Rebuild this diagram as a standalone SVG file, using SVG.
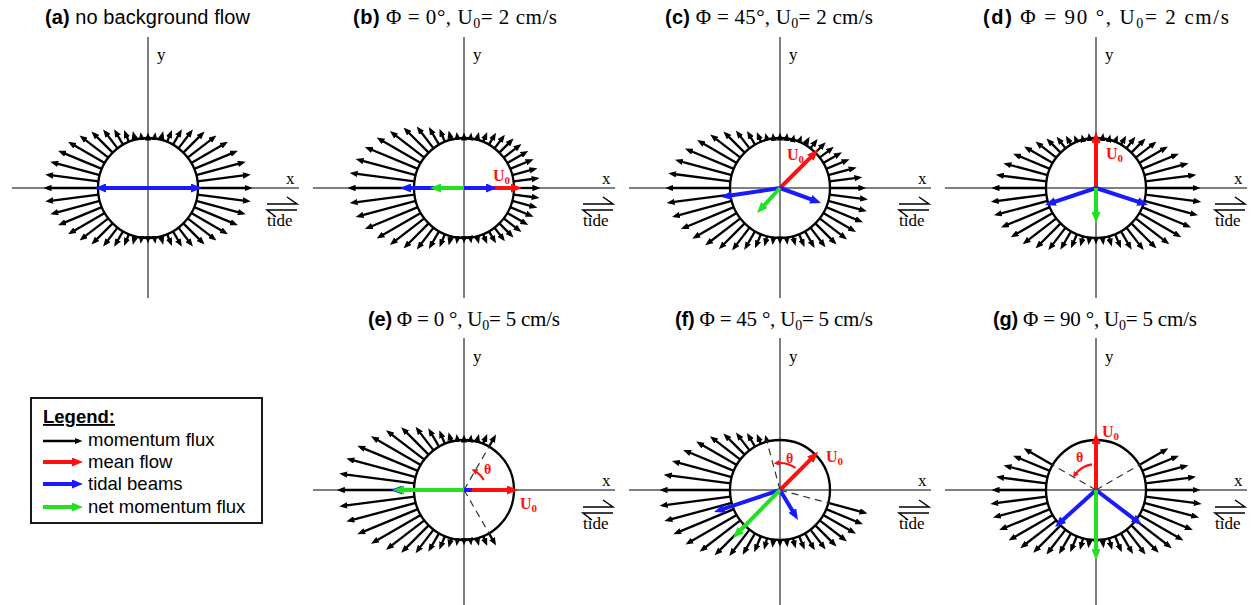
<svg xmlns="http://www.w3.org/2000/svg" width="1255" height="605" viewBox="0 0 1255 605">
<defs>
<marker id="hk" viewBox="0 0 8 6.4" refX="4.5" refY="3.2" markerWidth="8" markerHeight="6.4" markerUnits="userSpaceOnUse" orient="auto"><path d="M0,0 L8,3.2 L0,6.4 z" fill="#000"/></marker>
<marker id="hr" viewBox="0 0 11 9" refX="5" refY="4.5" markerWidth="11" markerHeight="9" markerUnits="userSpaceOnUse" orient="auto"><path d="M0,0 L11,4.5 L0,9 z" fill="#ff1010"/></marker>
<marker id="hb" viewBox="0 0 11 9" refX="5" refY="4.5" markerWidth="11" markerHeight="9" markerUnits="userSpaceOnUse" orient="auto"><path d="M0,0 L11,4.5 L0,9 z" fill="#1a1aff"/></marker>
<marker id="hg" viewBox="0 0 11 9" refX="5" refY="4.5" markerWidth="11" markerHeight="9" markerUnits="userSpaceOnUse" orient="auto"><path d="M0,0 L11,4.5 L0,9 z" fill="#22e022"/></marker>
<marker id="ht" viewBox="0 0 6 6" refX="3" refY="3" markerWidth="6" markerHeight="6" markerUnits="userSpaceOnUse" orient="auto"><path d="M0,0 L6,3 L0,6 z" fill="#ff1010"/></marker>
</defs>
<style>
.ax{stroke:#555;stroke-width:1.5;fill:none}
.ring{fill:none;stroke:#000;stroke-width:2.3}
.fx line{stroke:#000;stroke-width:2.3;marker-end:url(#hk)}
.dash{stroke:#333;stroke-width:1.2;stroke-dasharray:7 5;fill:none}
.r{stroke:#ff1010;stroke-width:4;marker-end:url(#hr)}
.b{stroke:#1a1aff;stroke-width:4;marker-end:url(#hb)}
.g{stroke:#22e022;stroke-width:4;marker-end:url(#hg)}
.arc{stroke:#ff1010;stroke-width:2.2;fill:none;marker-end:url(#ht)}
.td{stroke:#000;stroke-width:1.5;fill:none}
.ser{font-family:"Liberation Serif","Times New Roman",serif;fill:#000}
.lab{font-size:17px}
.tide{font-size:17px}
.tt{font-family:"Liberation Serif","Times New Roman",serif;font-size:21px;fill:#000}
.tb{font-family:"Liberation Sans",Arial,sans-serif;font-weight:bold;font-size:20px}
.tn{font-family:"Liberation Sans",Arial,sans-serif;font-weight:normal;font-size:20px}
.sub{font-size:14px}
.u0{font-family:"Liberation Serif","Times New Roman",serif;font-weight:bold;font-size:16px;fill:#ff1010}
.u0 .s{font-size:11px}
.th{font-family:"Liberation Serif","Times New Roman",serif;font-weight:bold;font-size:14px;fill:#ff1010}
.lg{font-family:"Liberation Sans",Arial,sans-serif;font-size:18.5px;fill:#000}
</style>

<!-- Panel (a) -->
<g id="panel-a" transform="translate(148,188)">
<text class="tt" x="-103" y="-164" textLength="205" lengthAdjust="spacing"><tspan class="tb">(a)</tspan><tspan class="tn"> no background flow</tspan></text>
<line class="ax" x1="-136" y1="0" x2="151" y2="0"/>
<line class="ax" x1="0" y1="-151" x2="0" y2="110"/>
<text class="ser lab" x="9" y="-128">y</text>
<text class="ser lab" x="138" y="-4">x</text>
<path class="td" d="M119,16H149L139,9M149,22H119L128,29"/>
<text class="ser tide" x="119" y="38">tide</text>
<circle class="ring" r="50"/>
<g class="fx">
<line x1="50" x2="101"/>
<line x1="50" x2="100.2" transform="rotate(-7.5)"/>
<line x1="50" x2="97.7" transform="rotate(-15)"/>
<line x1="50" x2="93.8" transform="rotate(-22.5)"/>
<line x1="50" x2="88.8" transform="rotate(-30)"/>
<line x1="50" x2="82.8" transform="rotate(-37.5)"/>
<line x1="50" x2="76.5" transform="rotate(-45)"/>
<line x1="50" x2="70.2" transform="rotate(-52.5)"/>
<line x1="50" x2="64.3" transform="rotate(-60)"/>
<line x1="50" x2="59.2" transform="rotate(-67.5)"/>
<line x1="50" x2="55.3" transform="rotate(-75)"/>
<line x1="50" x2="52.8" transform="rotate(-82.5)"/>
<line x1="50" x2="52" transform="rotate(-90)"/>
<line x1="50" x2="52.8" transform="rotate(-97.5)"/>
<line x1="50" x2="55.3" transform="rotate(-105)"/>
<line x1="50" x2="59.2" transform="rotate(-112.5)"/>
<line x1="50" x2="64.3" transform="rotate(-120)"/>
<line x1="50" x2="70.2" transform="rotate(-127.5)"/>
<line x1="50" x2="76.5" transform="rotate(-135)"/>
<line x1="50" x2="82.8" transform="rotate(-142.5)"/>
<line x1="50" x2="88.8" transform="rotate(-150)"/>
<line x1="50" x2="93.8" transform="rotate(-157.5)"/>
<line x1="50" x2="97.7" transform="rotate(-165)"/>
<line x1="50" x2="100.2" transform="rotate(-172.5)"/>
<line x1="50" x2="101" transform="rotate(180)"/>
<line x1="50" x2="100.2" transform="rotate(172.5)"/>
<line x1="50" x2="97.7" transform="rotate(165)"/>
<line x1="50" x2="93.8" transform="rotate(157.5)"/>
<line x1="50" x2="88.8" transform="rotate(150)"/>
<line x1="50" x2="82.8" transform="rotate(142.5)"/>
<line x1="50" x2="76.5" transform="rotate(135)"/>
<line x1="50" x2="70.2" transform="rotate(127.5)"/>
<line x1="50" x2="64.3" transform="rotate(120)"/>
<line x1="50" x2="59.2" transform="rotate(112.5)"/>
<line x1="50" x2="55.3" transform="rotate(105)"/>
<line x1="50" x2="52.8" transform="rotate(97.5)"/>
<line x1="50" x2="52" transform="rotate(90)"/>
<line x1="50" x2="52.8" transform="rotate(82.5)"/>
<line x1="50" x2="55.3" transform="rotate(75)"/>
<line x1="50" x2="59.2" transform="rotate(67.5)"/>
<line x1="50" x2="64.3" transform="rotate(60)"/>
<line x1="50" x2="70.2" transform="rotate(52.5)"/>
<line x1="50" x2="76.5" transform="rotate(45)"/>
<line x1="50" x2="82.8" transform="rotate(37.5)"/>
<line x1="50" x2="88.8" transform="rotate(30)"/>
<line x1="50" x2="93.8" transform="rotate(22.5)"/>
<line x1="50" x2="97.7" transform="rotate(15)"/>
<line x1="50" x2="100.2" transform="rotate(7.5)"/>
</g>
<line class="b" x1="0" y1="0" x2="-47" y2="0"/>
<line class="b" x1="0" y1="0" x2="48" y2="0"/>
</g>

<!-- Panel (b) -->
<g id="panel-b" transform="translate(464,188)">
<text class="tt" x="-111" y="-164" textLength="204" lengthAdjust="spacing"><tspan class="tb">(b)</tspan> Φ = 0°, U<tspan class="sub" dy="4">0</tspan><tspan dy="-4">= 2 cm/s</tspan></text>
<line class="ax" x1="-151" y1="0" x2="151" y2="0"/>
<line class="ax" x1="0" y1="-151" x2="0" y2="110"/>
<text class="ser lab" x="9" y="-128">y</text>
<text class="ser lab" x="138" y="-4">x</text>
<path class="td" d="M119,16H149L139,9M149,22H119L128,29"/>
<text class="ser tide" x="119" y="38">tide</text>
<circle class="ring" r="50"/>
<g class="fx">
<line x1="50" x2="72.9"/>
<line x1="50" x2="72.8" transform="rotate(-7.5)"/>
<line x1="50" x2="72.5" transform="rotate(-15)"/>
<line x1="50" x2="71.8" transform="rotate(-22.5)"/>
<line x1="50" x2="70.7" transform="rotate(-30)"/>
<line x1="50" x2="68.9" transform="rotate(-37.5)"/>
<line x1="50" x2="66.6" transform="rotate(-45)"/>
<line x1="50" x2="63.7" transform="rotate(-52.5)"/>
<line x1="50" x2="60.4" transform="rotate(-60)"/>
<line x1="50" x2="57.2" transform="rotate(-67.5)"/>
<line x1="50" x2="54.4" transform="rotate(-75)"/>
<line x1="50" x2="52.5" transform="rotate(-82.5)"/>
<line x1="50" x2="52" transform="rotate(-90)"/>
<line x1="50" x2="53.1" transform="rotate(-97.5)"/>
<line x1="50" x2="56" transform="rotate(-105)"/>
<line x1="50" x2="60.6" transform="rotate(-112.5)"/>
<line x1="50" x2="66.8" transform="rotate(-120)"/>
<line x1="50" x2="74.1" transform="rotate(-127.5)"/>
<line x1="50" x2="82" transform="rotate(-135)"/>
<line x1="50" x2="90" transform="rotate(-142.5)"/>
<line x1="50" x2="97.4" transform="rotate(-150)"/>
<line x1="50" x2="103.8" transform="rotate(-157.5)"/>
<line x1="50" x2="108.7" transform="rotate(-165)"/>
<line x1="50" x2="111.8" transform="rotate(-172.5)"/>
<line x1="50" x2="112.9" transform="rotate(180)"/>
<line x1="50" x2="111.8" transform="rotate(172.5)"/>
<line x1="50" x2="108.7" transform="rotate(165)"/>
<line x1="50" x2="103.8" transform="rotate(157.5)"/>
<line x1="50" x2="97.4" transform="rotate(150)"/>
<line x1="50" x2="90" transform="rotate(142.5)"/>
<line x1="50" x2="82" transform="rotate(135)"/>
<line x1="50" x2="74.1" transform="rotate(127.5)"/>
<line x1="50" x2="66.8" transform="rotate(120)"/>
<line x1="50" x2="60.6" transform="rotate(112.5)"/>
<line x1="50" x2="56" transform="rotate(105)"/>
<line x1="50" x2="53.1" transform="rotate(97.5)"/>
<line x1="50" x2="52" transform="rotate(90)"/>
<line x1="50" x2="52.5" transform="rotate(82.5)"/>
<line x1="50" x2="54.4" transform="rotate(75)"/>
<line x1="50" x2="57.2" transform="rotate(67.5)"/>
<line x1="50" x2="60.4" transform="rotate(60)"/>
<line x1="50" x2="63.7" transform="rotate(52.5)"/>
<line x1="50" x2="66.6" transform="rotate(45)"/>
<line x1="50" x2="68.9" transform="rotate(37.5)"/>
<line x1="50" x2="70.7" transform="rotate(30)"/>
<line x1="50" x2="71.8" transform="rotate(22.5)"/>
<line x1="50" x2="72.5" transform="rotate(15)"/>
<line x1="50" x2="72.8" transform="rotate(7.5)"/>
</g>
<line class="r" x1="0" y1="0" x2="52" y2="0"/>
<line class="b" x1="0" y1="0" x2="-58" y2="0"/>
<line class="b" x1="0" y1="0" x2="27" y2="0"/>
<line class="g" x1="0" y1="0" x2="-28" y2="0"/>
<text class="u0" x="29" y="-7">U<tspan class="s" dy="3">0</tspan></text>
</g>

<!-- Panel (c) -->
<g id="panel-c" transform="translate(780,188)">
<text class="tt" x="-115" y="-164" textLength="208" lengthAdjust="spacing"><tspan class="tb">(c)</tspan> Φ = 45°, U<tspan class="sub" dy="4">0</tspan><tspan dy="-4">= 2 cm/s</tspan></text>
<line class="ax" x1="-151" y1="0" x2="151" y2="0"/>
<line class="ax" x1="0" y1="-151" x2="0" y2="110"/>
<text class="ser lab" x="9" y="-128">y</text>
<text class="ser lab" x="138" y="-4">x</text>
<path class="td" d="M119,16H149L139,9M149,22H119L128,29"/>
<text class="ser tide" x="119" y="38">tide</text>
<circle class="ring" r="50"/>
<g class="fx">
<line x1="50" x2="82.8"/>
<line x1="50" x2="79.5" transform="rotate(-7.5)"/>
<line x1="50" x2="75.8" transform="rotate(-15)"/>
<line x1="50" x2="71.8" transform="rotate(-22.5)"/>
<line x1="50" x2="68" transform="rotate(-30)"/>
<line x1="50" x2="64.4" transform="rotate(-37.5)"/>
<line x1="50" x2="61.2" transform="rotate(-45)"/>
<line x1="50" x2="58.2" transform="rotate(-52.5)"/>
<line x1="50" x2="55.7" transform="rotate(-60)"/>
<line x1="50" x2="53.5" transform="rotate(-67.5)"/>
<line x1="50" x2="52" transform="rotate(-75)"/>
<line x1="50" x2="52" transform="rotate(-82.5)"/>
<line x1="50" x2="52" transform="rotate(-90)"/>
<line x1="50" x2="52" transform="rotate(-97.5)"/>
<line x1="50" x2="53.4" transform="rotate(-105)"/>
<line x1="50" x2="57.2" transform="rotate(-112.5)"/>
<line x1="50" x2="62.4" transform="rotate(-120)"/>
<line x1="50" x2="69" transform="rotate(-127.5)"/>
<line x1="50" x2="76.5" transform="rotate(-135)"/>
<line x1="50" x2="84.5" transform="rotate(-142.5)"/>
<line x1="50" x2="92.3" transform="rotate(-150)"/>
<line x1="50" x2="99.4" transform="rotate(-157.5)"/>
<line x1="50" x2="105.2" transform="rotate(-165)"/>
<line x1="50" x2="109.2" transform="rotate(-172.5)"/>
<line x1="50" x2="111.1" transform="rotate(180)"/>
<line x1="50" x2="110.8" transform="rotate(172.5)"/>
<line x1="50" x2="108.3" transform="rotate(165)"/>
<line x1="50" x2="103.8" transform="rotate(157.5)"/>
<line x1="50" x2="97.8" transform="rotate(150)"/>
<line x1="50" x2="90.7" transform="rotate(142.5)"/>
<line x1="50" x2="83" transform="rotate(135)"/>
<line x1="50" x2="75.2" transform="rotate(127.5)"/>
<line x1="50" x2="68" transform="rotate(120)"/>
<line x1="50" x2="61.8" transform="rotate(112.5)"/>
<line x1="50" x2="57" transform="rotate(105)"/>
<line x1="50" x2="54" transform="rotate(97.5)"/>
<line x1="50" x2="52.9" transform="rotate(90)"/>
<line x1="50" x2="53.8" transform="rotate(82.5)"/>
<line x1="50" x2="56.5" transform="rotate(75)"/>
<line x1="50" x2="60.6" transform="rotate(67.5)"/>
<line x1="50" x2="65.7" transform="rotate(60)"/>
<line x1="50" x2="71.2" transform="rotate(52.5)"/>
<line x1="50" x2="76.5" transform="rotate(45)"/>
<line x1="50" x2="81" transform="rotate(37.5)"/>
<line x1="50" x2="84.3" transform="rotate(30)"/>
<line x1="50" x2="86.2" transform="rotate(22.5)"/>
<line x1="50" x2="86.4" transform="rotate(15)"/>
<line x1="50" x2="85.2" transform="rotate(7.5)"/>
</g>
<line class="r" x1="0" y1="0" x2="33.9" y2="-33.9"/>
<line class="b" x1="0" y1="0" x2="-53.1" y2="8.1"/>
<line class="b" x1="0" y1="0" x2="35.4" y2="12.9"/>
<line class="g" x1="0" y1="0" x2="-18.9" y2="20.6"/>
<text class="u0" x="7" y="-28">U<tspan class="s" dy="3">0</tspan></text>
</g>

<!-- Panel (d) -->
<g id="panel-d" transform="translate(1096,188)">
<text class="tt" x="-113" y="-164" font-size="22" textLength="246" lengthAdjust="spacing"><tspan class="tb">(d)</tspan> Φ = 90 °, U<tspan class="sub" dy="4">0</tspan><tspan dy="-4">= 2 cm/s</tspan></text>
<line class="ax" x1="-151" y1="0" x2="151" y2="0"/>
<line class="ax" x1="0" y1="-151" x2="0" y2="110"/>
<text class="ser lab" x="9" y="-128">y</text>
<text class="ser lab" x="138" y="-4">x</text>
<path class="td" d="M119,16H149L139,9M149,22H119L128,29"/>
<text class="ser tide" x="119" y="38">tide</text>
<circle class="ring" r="50"/>
<g class="fx">
<line x1="50" x2="53.1" transform="rotate(90)"/>
<line x1="50" x2="54.1" transform="rotate(82.5)"/>
<line x1="50" x2="57.1" transform="rotate(75)"/>
<line x1="50" x2="61.8" transform="rotate(67.5)"/>
<line x1="50" x2="67.8" transform="rotate(60)"/>
<line x1="50" x2="74.8" transform="rotate(52.5)"/>
<line x1="50" x2="82" transform="rotate(45)"/>
<line x1="50" x2="88.9" transform="rotate(37.5)"/>
<line x1="50" x2="94.9" transform="rotate(30)"/>
<line x1="50" x2="99.4" transform="rotate(22.5)"/>
<line x1="50" x2="102.1" transform="rotate(15)"/>
<line x1="50" x2="102.6" transform="rotate(7.5)"/>
<line x1="50" x2="101"/>
<line x1="50" x2="97.5" transform="rotate(-7.5)"/>
<line x1="50" x2="92.4" transform="rotate(-15)"/>
<line x1="50" x2="86.2" transform="rotate(-22.5)"/>
<line x1="50" x2="79.5" transform="rotate(-30)"/>
<line x1="50" x2="72.8" transform="rotate(-37.5)"/>
<line x1="50" x2="66.6" transform="rotate(-45)"/>
<line x1="50" x2="61.2" transform="rotate(-52.5)"/>
<line x1="50" x2="56.8" transform="rotate(-60)"/>
<line x1="50" x2="53.5" transform="rotate(-67.5)"/>
<line x1="50" x2="52" transform="rotate(-75)"/>
<line x1="50" x2="52" transform="rotate(-82.5)"/>
<line x1="50" x2="52" transform="rotate(-90)"/>
<line x1="50" x2="54.1" transform="rotate(97.5)"/>
<line x1="50" x2="57.1" transform="rotate(105)"/>
<line x1="50" x2="61.8" transform="rotate(112.5)"/>
<line x1="50" x2="67.8" transform="rotate(120)"/>
<line x1="50" x2="74.8" transform="rotate(127.5)"/>
<line x1="50" x2="82" transform="rotate(135)"/>
<line x1="50" x2="88.9" transform="rotate(142.5)"/>
<line x1="50" x2="94.9" transform="rotate(150)"/>
<line x1="50" x2="99.4" transform="rotate(157.5)"/>
<line x1="50" x2="102.1" transform="rotate(165)"/>
<line x1="50" x2="102.6" transform="rotate(172.5)"/>
<line x1="50" x2="101" transform="rotate(180)"/>
<line x1="50" x2="97.5" transform="rotate(-172.5)"/>
<line x1="50" x2="92.4" transform="rotate(-165)"/>
<line x1="50" x2="86.2" transform="rotate(-157.5)"/>
<line x1="50" x2="79.5" transform="rotate(-150)"/>
<line x1="50" x2="72.8" transform="rotate(-142.5)"/>
<line x1="50" x2="66.6" transform="rotate(-135)"/>
<line x1="50" x2="61.2" transform="rotate(-127.5)"/>
<line x1="50" x2="56.8" transform="rotate(-120)"/>
<line x1="50" x2="53.5" transform="rotate(-112.5)"/>
<line x1="50" x2="52" transform="rotate(-105)"/>
<line x1="50" x2="52" transform="rotate(-97.5)"/>
</g>
<line class="r" x1="0" y1="0" x2="0" y2="-50"/>
<line class="b" x1="0" y1="0" x2="-45.3" y2="15.1"/>
<line class="b" x1="0" y1="0" x2="46.3" y2="15.1"/>
<line class="g" x1="0" y1="0" x2="0" y2="29"/>
<text class="u0" x="10" y="-29">U<tspan class="s" dy="3">0</tspan></text>
</g>

<!-- Panel (e) -->
<g id="panel-e" transform="translate(464,490)">
<text class="tt" x="-96" y="-164" textLength="192" lengthAdjust="spacing"><tspan class="tb">(e)</tspan> Φ = 0 °, U<tspan class="sub" dy="4">0</tspan><tspan dy="-4">= 5 cm/s</tspan></text>
<line class="ax" x1="-151" y1="0" x2="151" y2="0"/>
<line class="ax" x1="0" y1="-152" x2="0" y2="115"/>
<text class="ser lab" x="9" y="-128">y</text>
<text class="ser lab" x="138" y="-4">x</text>
<path class="td" d="M119,17H149L139,10M149,23H119L128,30"/>
<text class="ser tide" x="119" y="39">tide</text>
<circle class="ring" r="50"/>
<g class="fx">
<line x1="50" x2="60.6" transform="rotate(-60)"/>
<line x1="50" x2="57.2" transform="rotate(-67.5)"/>
<line x1="50" x2="54.4" transform="rotate(-75)"/>
<line x1="50" x2="52.5" transform="rotate(-82.5)"/>
<line x1="50" x2="52" transform="rotate(-90)"/>
<line x1="50" x2="53.1" transform="rotate(-97.5)"/>
<line x1="50" x2="56.2" transform="rotate(-105)"/>
<line x1="50" x2="61.1" transform="rotate(-112.5)"/>
<line x1="50" x2="67.9" transform="rotate(-120)"/>
<line x1="50" x2="76.1" transform="rotate(-127.5)"/>
<line x1="50" x2="85.3" transform="rotate(-135)"/>
<line x1="50" x2="94.8" transform="rotate(-142.5)"/>
<line x1="50" x2="103.9" transform="rotate(-150)"/>
<line x1="50" x2="112" transform="rotate(-157.5)"/>
<line x1="50" x2="118.3" transform="rotate(-165)"/>
<line x1="50" x2="122.3" transform="rotate(-172.5)"/>
<line x1="50" x2="123.7" transform="rotate(180)"/>
<line x1="50" x2="122.3" transform="rotate(172.5)"/>
<line x1="50" x2="118.3" transform="rotate(165)"/>
<line x1="50" x2="112" transform="rotate(157.5)"/>
<line x1="50" x2="103.9" transform="rotate(150)"/>
<line x1="50" x2="94.8" transform="rotate(142.5)"/>
<line x1="50" x2="85.3" transform="rotate(135)"/>
<line x1="50" x2="76.1" transform="rotate(127.5)"/>
<line x1="50" x2="67.9" transform="rotate(120)"/>
<line x1="50" x2="61.1" transform="rotate(112.5)"/>
<line x1="50" x2="56.2" transform="rotate(105)"/>
<line x1="50" x2="53.1" transform="rotate(97.5)"/>
<line x1="50" x2="52" transform="rotate(90)"/>
<line x1="50" x2="52.5" transform="rotate(82.5)"/>
<line x1="50" x2="54.4" transform="rotate(75)"/>
<line x1="50" x2="57.2" transform="rotate(67.5)"/>
<line x1="50" x2="60.6" transform="rotate(60)"/>
</g>
<line class="dash" x1="0" y1="0" x2="26" y2="-45"/>
<line class="dash" x1="0" y1="0" x2="26" y2="45"/>
<path class="arc" d="M19.6,-10 A22,22 0 0 0 10.3,-19.4"/>
<line class="r" x1="0" y1="0" x2="48" y2="0"/>
<line class="b" x1="0" y1="0" x2="-67" y2="0"/>
<line x1="0" y1="0" x2="8" y2="0" stroke="#1a1aff" stroke-width="4"/>
<line class="g" x1="0" y1="0" x2="-65" y2="0"/>
<text class="u0" x="56" y="19">U<tspan class="s" dy="3">0</tspan></text>
<text class="th" x="20" y="-16">θ</text>
</g>

<!-- Panel (f) -->
<g id="panel-f" transform="translate(780,490)">
<text class="tt" x="-105" y="-164" textLength="198" lengthAdjust="spacing"><tspan class="tb">(f)</tspan> Φ = 45 °, U<tspan class="sub" dy="4">0</tspan><tspan dy="-4">= 5 cm/s</tspan></text>
<line class="ax" x1="-151" y1="0" x2="151" y2="0"/>
<line class="ax" x1="0" y1="-152" x2="0" y2="115"/>
<text class="ser lab" x="9" y="-128">y</text>
<text class="ser lab" x="138" y="-4">x</text>
<path class="td" d="M119,17H149L139,10M149,23H119L128,30"/>
<text class="ser tide" x="119" y="39">tide</text>
<circle class="ring" r="50"/>
<g class="fx">
<line x1="50" x2="53.5" transform="rotate(-105)"/>
<line x1="50" x2="57.2" transform="rotate(-112.5)"/>
<line x1="50" x2="62.4" transform="rotate(-120)"/>
<line x1="50" x2="68.9" transform="rotate(-127.5)"/>
<line x1="50" x2="76.5" transform="rotate(-135)"/>
<line x1="50" x2="84.8" transform="rotate(-142.5)"/>
<line x1="50" x2="93.3" transform="rotate(-150)"/>
<line x1="50" x2="101.3" transform="rotate(-157.5)"/>
<line x1="50" x2="108.4" transform="rotate(-165)"/>
<line x1="50" x2="113.8" transform="rotate(-172.5)"/>
<line x1="50" x2="117" transform="rotate(180)"/>
<line x1="50" x2="117.9" transform="rotate(172.5)"/>
<line x1="50" x2="116.2" transform="rotate(165)"/>
<line x1="50" x2="112" transform="rotate(157.5)"/>
<line x1="50" x2="105.7" transform="rotate(150)"/>
<line x1="50" x2="97.8" transform="rotate(142.5)"/>
<line x1="50" x2="88.9" transform="rotate(135)"/>
<line x1="50" x2="79.8" transform="rotate(127.5)"/>
<line x1="50" x2="71.2" transform="rotate(120)"/>
<line x1="50" x2="63.9" transform="rotate(112.5)"/>
<line x1="50" x2="58.3" transform="rotate(105)"/>
<line x1="50" x2="54.8" transform="rotate(97.5)"/>
<line x1="50" x2="53.5" transform="rotate(90)"/>
<line x1="50" x2="54.3" transform="rotate(82.5)"/>
<line x1="50" x2="57" transform="rotate(75)"/>
<line x1="50" x2="61.1" transform="rotate(67.5)"/>
<line x1="50" x2="66.1" transform="rotate(60)"/>
<line x1="50" x2="71.4" transform="rotate(52.5)"/>
<line x1="50" x2="76.5" transform="rotate(45)"/>
<line x1="50" x2="80.9" transform="rotate(37.5)"/>
<line x1="50" x2="84.2" transform="rotate(30)"/>
<line x1="50" x2="86.3" transform="rotate(22.5)"/>
<line x1="50" x2="87.1" transform="rotate(15)"/>
</g>
<line class="dash" x1="0" y1="0" x2="-13.5" y2="-50.2"/>
<line class="dash" x1="0" y1="0" x2="50.2" y2="13.5"/>
<path class="arc" d="M15.5,-22.1 A27,27 0 0 0 -3.3,-26.8"/>
<line class="r" x1="0" y1="0" x2="33.9" y2="-33.9"/>
<line class="b" x1="0" y1="0" x2="-60.3" y2="20.1"/>
<line class="b" x1="0" y1="0" x2="14.9" y2="24.9"/>
<line class="g" x1="0" y1="0" x2="-42.8" y2="43.7"/>
<text class="u0" x="46" y="-28">U<tspan class="s" dy="3">0</tspan></text>
<text class="th" x="6" y="-27">θ</text>
</g>

<!-- Panel (g) -->
<g id="panel-g" transform="translate(1096,490)">
<text class="tt" x="-103" y="-164" textLength="204" lengthAdjust="spacing"><tspan class="tb">(g)</tspan> Φ = 90 °, U<tspan class="sub" dy="4">0</tspan><tspan dy="-4">= 5 cm/s</tspan></text>
<line class="ax" x1="-151" y1="0" x2="151" y2="0"/>
<line class="ax" x1="0" y1="-152" x2="0" y2="115"/>
<text class="ser lab" x="9" y="-128">y</text>
<text class="ser lab" x="138" y="-4">x</text>
<path class="td" d="M119,17H149L139,10M149,23H119L128,30"/>
<text class="ser tide" x="119" y="39">tide</text>
<circle class="ring" r="50"/>
<g class="fx">
<line x1="50" x2="54.1" transform="rotate(90)"/>
<line x1="50" x2="55.3" transform="rotate(82.5)"/>
<line x1="50" x2="58.6" transform="rotate(75)"/>
<line x1="50" x2="63.9" transform="rotate(67.5)"/>
<line x1="50" x2="70.5" transform="rotate(60)"/>
<line x1="50" x2="77.9" transform="rotate(52.5)"/>
<line x1="50" x2="85.3" transform="rotate(45)"/>
<line x1="50" x2="92" transform="rotate(37.5)"/>
<line x1="50" x2="97.5" transform="rotate(30)"/>
<line x1="50" x2="101.3" transform="rotate(22.5)"/>
<line x1="50" x2="103.2" transform="rotate(15)"/>
<line x1="50" x2="103.1" transform="rotate(7.5)"/>
<line x1="50" x2="101"/>
<line x1="50" x2="97.3" transform="rotate(-7.5)"/>
<line x1="50" x2="92.2" transform="rotate(-15)"/>
<line x1="50" x2="86.3" transform="rotate(-22.5)"/>
<line x1="50" x2="80" transform="rotate(-30)"/>
<line x1="50" x2="55.3" transform="rotate(97.5)"/>
<line x1="50" x2="58.6" transform="rotate(105)"/>
<line x1="50" x2="63.9" transform="rotate(112.5)"/>
<line x1="50" x2="70.5" transform="rotate(120)"/>
<line x1="50" x2="77.9" transform="rotate(127.5)"/>
<line x1="50" x2="85.3" transform="rotate(135)"/>
<line x1="50" x2="92" transform="rotate(142.5)"/>
<line x1="50" x2="97.5" transform="rotate(150)"/>
<line x1="50" x2="101.3" transform="rotate(157.5)"/>
<line x1="50" x2="103.2" transform="rotate(165)"/>
<line x1="50" x2="103.1" transform="rotate(172.5)"/>
<line x1="50" x2="101" transform="rotate(180)"/>
<line x1="50" x2="97.3" transform="rotate(-172.5)"/>
<line x1="50" x2="92.2" transform="rotate(-165)"/>
<line x1="50" x2="86.3" transform="rotate(-157.5)"/>
<line x1="50" x2="80" transform="rotate(-150)"/>
</g>
<line class="dash" x1="0" y1="0" x2="-45" y2="-26"/>
<line class="dash" x1="0" y1="0" x2="45" y2="-26"/>
<path class="arc" d="M-4,-25.7 A26,26 0 0 0 -21.3,-14.9"/>
<line class="r" x1="0" y1="0" x2="0" y2="-51"/>
<line class="b" x1="0" y1="0" x2="-36.5" y2="33"/>
<line class="b" x1="0" y1="0" x2="41.2" y2="31.4"/>
<line class="g" x1="0" y1="0" x2="0" y2="64"/>
<text class="u0" x="6" y="-53">U<tspan class="s" dy="3">0</tspan></text>
<text class="th" x="-20" y="-28">θ</text>
</g>

<!-- Legend -->
<g id="legend">
<rect x="31" y="398" width="231" height="125" fill="#fff" stroke="#000" stroke-width="1.8"/>
<text class="lg" x="43" y="423" font-weight="bold" text-decoration="underline">Legend:</text>
<line x1="43" y1="441" x2="79" y2="441" stroke="#000" stroke-width="2.3" marker-end="url(#hk)"/>
<line class="r" x1="43" y1="462" x2="77" y2="462"/>
<line class="b" x1="43" y1="484" x2="77" y2="484"/>
<line class="g" x1="43" y1="507" x2="77" y2="507"/>
<text class="lg" x="88" y="446">momentum flux</text>
<text class="lg" x="88" y="468">mean flow</text>
<text class="lg" x="88" y="490">tidal beams</text>
<text class="lg" x="88" y="513">net momentum flux</text>
</g>
</svg>
